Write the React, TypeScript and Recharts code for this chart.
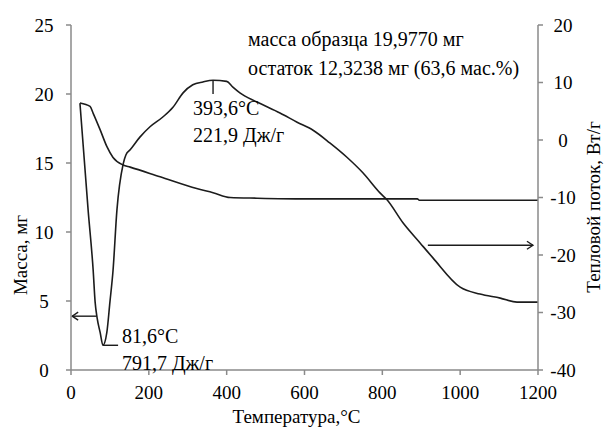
import {
  ComposedChart,
  Line,
  XAxis,
  YAxis,
  Label,
  ReferenceLine,
  ReferenceDot,
} from 'recharts'

const FONT = 'Liberation Serif, Times New Roman, serif'
const AXIS = '#8a8a8a'
const INK = '#1c1c1c'
const TICK = { fontFamily: FONT, fontSize: 19 }
const TXT = { fontFamily: FONT, fontSize: 20 }

// TG: масса образца, мг
const tgTemps = [23, 49, 57, 75, 92, 108, 134, 152, 229, 323, 365, 409, 478, 600, 890, 895, 1200]
const tgMass = [19.35, 19.1, 18.6, 17.4, 16.2, 15.4, 14.85, 14.7, 14.0, 13.15, 12.85, 12.5, 12.45, 12.4, 12.4, 12.3, 12.3]

// DSC: тепловой поток, Вт/г
const dscTemps = [
  23, 44, 57, 62, 67, 75, 82, 92, 100, 108, 118, 134, 141, 152, 177, 203, 236, 262, 288, 313,
  339, 365, 400, 416, 434, 478, 537, 581, 622, 665, 709, 750, 794, 812, 853, 897, 930, 1000,
  1051, 1103, 1146, 1200,
]
const dscFlow = [
  6.4, -12.2, -22.7, -28.2, -30.9, -33.5, -35.7, -33.5, -28.2, -22.7, -12.2, -4.2, -2.6, -1.7,
  0.5, 2.3, 4.0, 5.7, 8.2, 9.6, 10.1, 10.4, 10.2, 9.2, 8.2, 6.6, 4.7, 3.1, 1.7, -0.5, -3.0, -5.7,
  -9.2, -10.4, -14.4, -17.9, -20.5, -25.6, -26.8, -27.5, -28.2, -28.2,
]

const xTicks = [0, 200, 400, 600, 800, 1000, 1200]
const massTicks = [0, 5, 10, 15, 20, 25]
const flowTicks = [-40, -30, -20, -10, 0, 10, 20]

const topNote = ['масса образца 19,9770 мг', 'остаток 12,3238 мг (63,6 мас.%)']
const peakNote = ['393,6°C', '221,9 Дж/г']
const minNote = ['81,6°C', '791,7 Дж/г']

const tgData = tgTemps.map((t, i) => ({ t, v: tgMass[i] }))
const dscData = dscTemps.map((t, i) => ({ t, v: dscFlow[i] }))

function Note({ cx, cy, dx, dys, lines }: any) {
  return (
    <g>
      {lines.map((s: string, i: number) => (
        <text key={i} x={cx + dx} y={cy + dys[i]} style={TXT} fill="#000">
          {s}
        </text>
      ))}
    </g>
  )
}

function Arrow({ x1, y1, x2, y2 }: any) {
  const d = x2 > x1 ? 1 : -1
  return (
    <g stroke={INK} strokeWidth={1.4} fill="none">
      <line x1={x1} y1={y1} x2={x2} y2={y2} />
      <polyline points={`${x2 - d * 6},${y2 - 4} ${x2},${y2} ${x2 - d * 6},${y2 + 4}`} />
    </g>
  )
}

function Segment({ x1, y1, x2, y2 }: any) {
  return <line x1={x1} y1={y1} x2={x2} y2={y2} stroke={INK} strokeWidth={1.4} />
}

function XTick({ x, y, payload }: any) {
  return (
    <text x={x} y={y + 22} textAnchor="middle" style={TICK} fill="#000">
      {payload.value}
    </text>
  )
}

function LeftTick({ x, y, payload }: any) {
  return (
    <text x={x - 20} y={y} dy="0.35em" textAnchor="middle" style={TICK} fill="#000">
      {payload.value}
    </text>
  )
}

function RightTick({ x, y, payload }: any) {
  return (
    <text x={x + 18} y={y} dy="0.35em" textAnchor="middle" style={TICK} fill="#000">
      {payload.value}
    </text>
  )
}

export default function App() {
  return (
    <div style={{ position: 'fixed', left: 0, top: 0, width: 604, height: 428, background: '#fff' }}>
      <ComposedChart width={604} height={428} margin={{ top: 25, right: 0, bottom: 0, left: 0 }}>
        <XAxis
          dataKey="t"
          type="number"
          domain={[0, 1200]}
          ticks={xTicks}
          height={58}
          tickSize={5}
          stroke={AXIS}
          strokeWidth={1.5}
          tick={<XTick />}
        >
          <Label
            content={({ viewBox }: any) => (
              <text
                x={viewBox.x + viewBox.width / 2 - 8}
                y={viewBox.y + 53}
                textAnchor="middle"
                style={TICK}
                fill="#000"
              >
                Температура,°C
              </text>
            )}
          />
        </XAxis>
        <YAxis
          yAxisId="m"
          domain={[0, 25]}
          ticks={massTicks}
          width={71}
          tickSize={5}
          stroke={AXIS}
          strokeWidth={1.5}
          tick={<LeftTick />}
        >
          <Label
            content={({ viewBox }: any) => (
              <text
                transform={`translate(${viewBox.x + 27}, ${viewBox.y + 230}) rotate(-90)`}
                textAnchor="middle"
                style={TICK}
                fill="#000"
              >
                Масса, мг
              </text>
            )}
          />
        </YAxis>
        <YAxis
          yAxisId="h"
          orientation="right"
          domain={[-40, 20]}
          ticks={flowTicks}
          width={66}
          tickSize={5}
          stroke={AXIS}
          strokeWidth={1.5}
          tick={<RightTick />}
        >
          <Label
            content={({ viewBox }: any) => (
              <text
                transform={`translate(${viewBox.x + 62}, ${viewBox.y + 182}) rotate(-90)`}
                textAnchor="middle"
                style={TICK}
                fill="#000"
              >
                Тепловой поток, Вт/г
              </text>
            )}
          />
        </YAxis>

        <Line
          yAxisId="m"
          data={tgData}
          dataKey="v"
          type="monotone"
          stroke={INK}
          strokeWidth={1.6}
          dot={false}
          isAnimationActive={false}
        />
        <Line
          yAxisId="h"
          data={dscData}
          dataKey="v"
          type="monotone"
          stroke={INK}
          strokeWidth={1.6}
          dot={false}
          isAnimationActive={false}
        />

        <ReferenceLine
          yAxisId="h"
          segment={[{ x: 365, y: 10.4 }, { x: 365, y: 8.0 }]}
          shape={(p: any) => <Segment {...p} />}
        />
        <ReferenceLine
          yAxisId="h"
          segment={[{ x: 82, y: -35.7 }, { x: 121, y: -35.7 }]}
          shape={(p: any) => <Segment {...p} />}
        />
        <ReferenceLine
          yAxisId="m"
          segment={[{ x: 66, y: 3.9 }, { x: 3, y: 3.9 }]}
          shape={(p: any) => <Arrow {...p} />}
        />
        <ReferenceLine
          yAxisId="h"
          segment={[{ x: 917, y: -18.3 }, { x: 1187, y: -18.3 }]}
          shape={(p: any) => <Arrow {...p} />}
        />

        <ReferenceDot
          yAxisId="m"
          x={455}
          y={23.5}
          r={0}
          ifOverflow="visible"
          shape={(p: any) => <Note cx={p.cx} cy={p.cy} dx={0} dys={[0, 29]} lines={topNote} />}
        />
        <ReferenceDot
          yAxisId="h"
          x={365}
          y={10.4}
          r={0}
          ifOverflow="visible"
          shape={(p: any) => <Note cx={p.cx} cy={p.cy} dx={-20} dys={[35, 62]} lines={peakNote} />}
        />
        <ReferenceDot
          yAxisId="h"
          x={82}
          y={-35.7}
          r={0}
          ifOverflow="visible"
          shape={(p: any) => <Note cx={p.cx} cy={p.cy} dx={19} dys={[-2, 25]} lines={minNote} />}
        />
      </ComposedChart>
    </div>
  )
}
